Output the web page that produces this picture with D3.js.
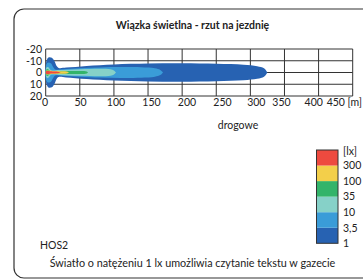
<!DOCTYPE html>
<html>
<head>
<meta charset="utf-8">
<script src="https://cdn.jsdelivr.net/npm/d3@7"></script>
<style>
  body { margin: 0; background: #fff; }
  text { font-family: Lato, "Noto Sans", sans-serif; fill: #222; }
</style>
</head>
<body>
<div id="viz"></div>
<script>
// data: beam outlines as [distance m, half width m]
const xTicks = [0, 50, 100, 150, 200, 250, 300, 350, 400, 450];
const yTicks = [-20, -10, 0, 10, 20];
const levels = ["1", "3,5", "10", "35", "100", "300"];
const levelColors = ["#2762b2", "#3a9cd8", "#86d1c8", "#33b46a", "#f3cf4a", "#ee4a3f"];

const lx1 = [[-0.5, 0], [0, 6], [1.5, 10.5], [4, 12.8], [9, 12.6], [13, 9.5], [16, 5.5], [19, 3.9], [30, 4.2], [60, 5.6], [100, 6.9], [150, 7.6], [200, 7.8], [250, 7.4], [290, 6.6], [310, 5.4], [320, 3.6], [325, 0]];
const lx3 = [[0, 0], [0.3, 5], [2, 8], [5, 8.6], [8, 7.6], [11, 4.6], [14, 2.6], [25, 2.7], [50, 3.6], [80, 4.3], [110, 4.6], [140, 4.4], [160, 3.6], [168, 2.2], [172, 0]];
const lx10 = [[0, 0], [0.3, 3], [2, 4.6], [4, 4.4], [6, 3], [8, 1.9], [20, 2.1], [50, 2.8], [80, 3.2], [95, 2.8], [100, 1.8], [103, 0]];
const lx35 = [[0, 0], [0.3, 2], [2, 2.9], [4, 2.5], [6, 1.5], [10, 1.2], [30, 1.3], [55, 1.2], [60, 0.8], [62, 0]];
const lx100 = [[0, 0], [0.5, 1.5], [3, 1.7], [10, 1.3], [25, 1.1], [31, 0.8], [34, 0]];
const lx300 = [[0, 0], [0.5, 1], [10, 0.8], [18, 0.6], [22, 0]];
const beams = [lx1, lx3, lx10, lx35, lx100, lx300];

const W = 363, H = 280;
const svg = d3.select("#viz").append("svg")
  .attr("width", W).attr("height", H);

// frame with rounded corners (right side runs off the picture)
svg.append("rect")
  .attr("x", 14).attr("y", 9)
  .attr("width", 380).attr("height", 269)
  .attr("rx", 10)
  .attr("fill", "none").attr("stroke", "#333").attr("stroke-width", 1.2);

svg.append("text")
  .attr("x", 192.5).attr("y", 29)
  .attr("text-anchor", "middle")
  .attr("font-size", 10.5).attr("font-weight", "bold")
  .text("Wiązka świetlna - rzut na jezdnię");

const x = d3.scaleLinear().domain([0, 450]).range([45.7, 352.7]);
const y = d3.scaleLinear().domain([-20, 20]).range([49, 96]);
// tick labels in the picture are squeezed towards the right
const xLab = d3.scaleLinear().domain([0, 250, 300, 350, 400, 450]).range([45, 222.5, 256.3, 281.5, 313.7, 335.8]);

const grid = svg.append("g").attr("stroke", "#333").attr("stroke-width", 1);
grid.selectAll("line.v").data(xTicks).join("line")
  .attr("class", "v")
  .attr("x1", d => x(d)).attr("x2", d => x(d))
  .attr("y1", y(-20)).attr("y2", y(20));
grid.selectAll("line.h").data(yTicks).join("line")
  .attr("class", "h")
  .attr("x1", x(0)).attr("x2", x(450))
  .attr("y1", d => y(d)).attr("y2", d => y(d));

// beam contours, mirrored about the road axis
const area = d3.area()
  .x(d => x(d[0]))
  .y0(d => y(-d[1]))
  .y1(d => y(d[1]))
  .curve(d3.curveCatmullRom);

svg.append("g").selectAll("path").data(beams).join("path")
  .attr("d", area)
  .attr("fill", (d, i) => levelColors[i]);

svg.append("g").selectAll("text").data(yTicks).join("text")
  .attr("x", 42).attr("y", d => y(d) + 3.8)
  .attr("text-anchor", "end")
  .attr("font-size", 10.5)
  .text(d => d);

svg.append("g").selectAll("text").data(xTicks).join("text")
  .attr("x", d => xLab(d)).attr("y", 105.5)
  .attr("text-anchor", "middle")
  .attr("font-size", 10.5)
  .text(d => d);
svg.append("text").attr("x", 347.5).attr("y", 105.5)
  .attr("font-size", 10.5).text("[m]");

svg.append("text")
  .attr("x", 238).attr("y", 128.5)
  .attr("text-anchor", "middle")
  .attr("font-size", 10.5)
  .text("drogowe");

// legend
const ly = d3.scaleBand().domain(d3.range(levels.length)).range([243.3, 150]);
const leg = svg.append("g");
leg.selectAll("rect").data(levels).join("rect")
  .attr("x", 316.5).attr("width", 21.5)
  .attr("y", (d, i) => ly(i)).attr("height", ly.bandwidth())
  .attr("fill", (d, i) => levelColors[i]);
leg.append("rect")
  .attr("x", 316.5).attr("y", 150).attr("width", 21.5).attr("height", 93.3)
  .attr("fill", "none").attr("stroke", "#333").attr("stroke-width", 1);
leg.selectAll("text").data(levels).join("text")
  .attr("x", 343)
  .attr("y", (d, i) => ly(i) + ly.bandwidth() + 3.8)
  .attr("font-size", 10.5)
  .text(d => d);
leg.append("text").attr("x", 343).attr("y", 154.5).attr("font-size", 10.5).text("[lx]");

svg.append("text")
  .attr("x", 40).attr("y", 248.5)
  .attr("font-size", 10.5)
  .text("HOS2");

svg.append("text")
  .attr("x", 192.5).attr("y", 266.5)
  .attr("text-anchor", "middle")
  .attr("font-size", 10.8)
  .text("Światło o natężeniu 1 lx umożliwia czytanie tekstu w gazecie");
</script>
</body>
</html>
